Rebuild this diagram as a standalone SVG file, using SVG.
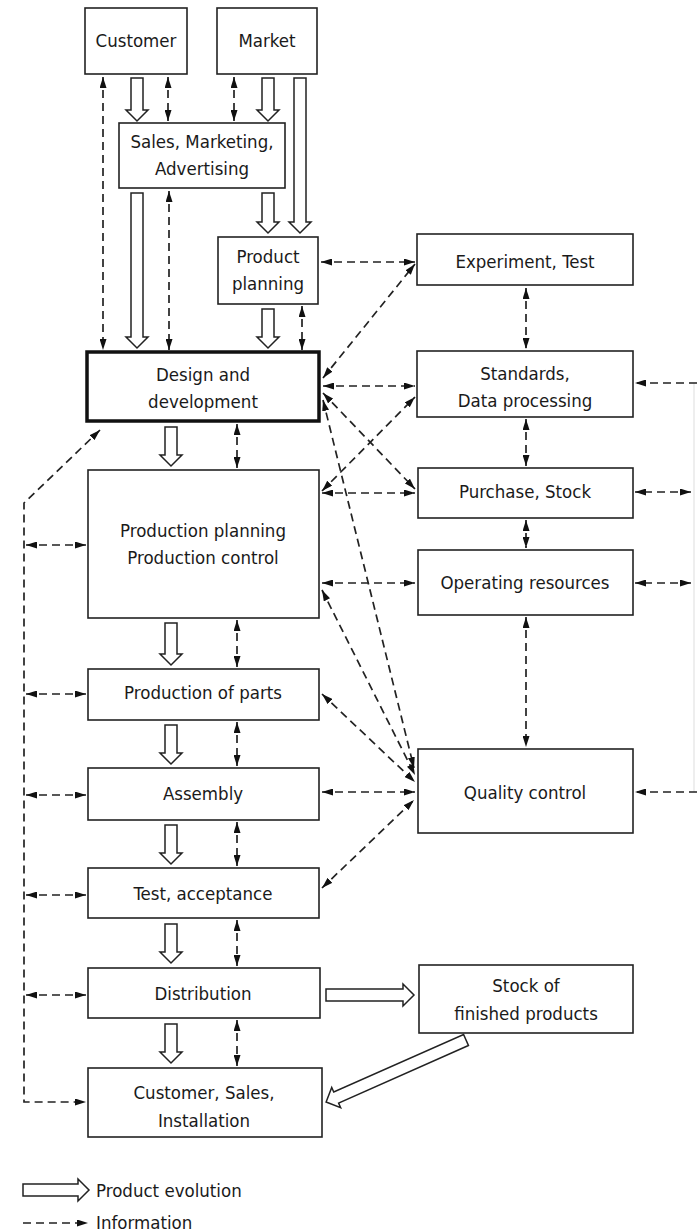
<svg xmlns="http://www.w3.org/2000/svg" width="697" height="1232" viewBox="0 0 697 1232">
<style>
.box{fill:#fff;stroke:#222;stroke-width:1.6}
.thick{fill:#fff;stroke:#111;stroke-width:3.5}
.t{font-family:"Liberation Sans Narrow","DejaVu Sans Condensed","Liberation Sans",sans-serif;font-size:18.5px;fill:#1a1a1a;text-anchor:middle}
.tl{font-family:"Liberation Sans Narrow","DejaVu Sans Condensed","Liberation Sans",sans-serif;font-size:18.5px;fill:#1a1a1a}
.d{fill:none;stroke:#222;stroke-width:1.7;stroke-dasharray:8 5}
.db{fill:none;stroke:#222;stroke-width:1.7;stroke-dasharray:8 5;marker-start:url(#ah);marker-end:url(#ah)}
.de{fill:none;stroke:#222;stroke-width:1.7;stroke-dasharray:8 5;marker-end:url(#ah)}
.hol{fill:#fff;stroke:#222;stroke-width:1.5;stroke-linejoin:miter}
</style>
<defs>
<marker id="ah" viewBox="0 0 11 7" refX="11" refY="3.5" markerWidth="11" markerHeight="7" markerUnits="userSpaceOnUse" orient="auto-start-reverse">
<path d="M0,0 L11,3.5 L0,7 z" fill="#111"/>
</marker>
</defs>

<g id="connectors">
<!-- hollow product evolution arrows -->
<path class="hol" d="M131,78 L143,78 L143,110 L148,110 L137,121 L126,110 L131,110 Z"/>
<path class="hol" d="M262,78 L274,78 L274,110 L279,110 L268,121 L257,110 L262,110 Z"/>
<path class="hol" d="M294,78 L306,78 L306,222 L311,222 L300,233 L289,222 L294,222 Z"/>
<path class="hol" d="M262,193 L274,193 L274,222 L279,222 L268,233 L257,222 L262,222 Z"/>
<path class="hol" d="M131,193 L143,193 L143,337 L148,337 L137,348 L126,337 L131,337 Z"/>
<path class="hol" d="M262,309 L274,309 L274,337 L279,337 L268,348 L257,337 L262,337 Z"/>
<path class="hol" d="M165,427 L177,427 L177,455 L182,455 L171,466 L160,455 L165,455 Z"/>
<path class="hol" d="M165,623 L177,623 L177,654 L182,654 L171,665 L160,654 L165,654 Z"/>
<path class="hol" d="M165,725 L177,725 L177,753 L182,753 L171,764 L160,753 L165,753 Z"/>
<path class="hol" d="M165,825 L177,825 L177,853 L182,853 L171,864 L160,853 L165,853 Z"/>
<path class="hol" d="M165,924 L177,924 L177,952 L182,952 L171,963 L160,952 L165,952 Z"/>
<path class="hol" d="M165,1024 L177,1024 L177,1052 L182,1052 L171,1063 L160,1052 L165,1052 Z"/>
<path class="hol" d="M326,989 L403,989 L403,984 L414,995 L403,1006 L403,1001 L326,1001 Z"/>
<path class="hol" transform="translate(466,1040) rotate(156.1)" d="M0,-6 L142,-6 L142,-11 L153,0 L142,11 L142,6 L0,6 Z"/>

<!-- vertical information arrows, main column -->
<path class="db" d="M103,77 L103,350"/>
<path class="db" d="M168,77 L168,121"/>
<path class="db" d="M234,77 L234,121"/>
<path class="db" d="M169,191 L169,350"/>
<path class="db" d="M302,306 L302,350"/>
<path class="db" d="M237,424 L237,468"/>
<path class="db" d="M237,620 L237,667"/>
<path class="db" d="M237,722 L237,766"/>
<path class="db" d="M237,822 L237,866"/>
<path class="db" d="M237,920 L237,966"/>
<path class="db" d="M237,1020 L237,1066"/>

<!-- left bus -->
<path class="d" d="M100,430 L24,503 L24,1102 L86,1102" marker-start="url(#ah)" marker-end="url(#ah)"/>
<path class="db" d="M26,545 L86,545"/>
<path class="db" d="M26,694 L86,694"/>
<path class="db" d="M26,795 L86,795"/>
<path class="db" d="M26,895 L86,895"/>
<path class="db" d="M26,995 L86,995"/>

<!-- middle connections -->
<path class="db" d="M321,262 L415,262"/>
<path class="db" d="M323,378 L415,264"/>
<path class="db" d="M323,386 L415,386"/>
<path class="db" d="M323,393 L415,489"/>
<path class="db" d="M323,400 L414,768"/>
<path class="db" d="M322,491 L415,397"/>
<path class="db" d="M322,493 L415,493"/>
<path class="db" d="M322,583 L415,583"/>
<path class="db" d="M322,590 L415,775"/>
<path class="db" d="M322,694 L415,782"/>
<path class="db" d="M322,792 L415,792"/>
<path class="db" d="M322,888 L414,800"/>

<!-- right column vertical -->
<path class="db" d="M526,288 L526,349"/>
<path class="db" d="M526,419 L526,466"/>
<path class="db" d="M526,520 L526,548"/>
<path class="db" d="M526,617 L526,747"/>

<!-- right bus -->
<path d="M694,383 L694,792" fill="none" stroke="#ddd" stroke-width="1"/>
<path class="de" d="M697,383 L635,383"/>
<path class="db" d="M691,492 L635,492"/>
<path class="db" d="M691,583 L635,583"/>
<path class="de" d="M697,792 L635,792"/>
</g>

<g id="customer"><rect class="box" x="85" y="8" width="102" height="66"/><text class="t" x="136" y="47">Customer</text></g>
<g id="market"><rect class="box" x="217" y="8" width="100" height="66"/><text class="t" x="267" y="47">Market</text></g>
<g id="sales"><rect class="box" x="119" y="123" width="166" height="65"/><text class="t" x="202" y="148">Sales, Marketing,</text><text class="t" x="202" y="175">Advertising</text></g>
<g id="product-planning"><rect class="box" x="218" y="237" width="100" height="67"/><text class="t" x="268" y="263">Product</text><text class="t" x="268" y="290">planning</text></g>
<g id="design"><rect class="thick" x="87" y="352" width="232" height="69"/><text class="t" x="203" y="381">Design and</text><text class="t" x="203" y="408">development</text></g>
<g id="production-planning"><rect class="box" x="88" y="470" width="231" height="148"/><text class="t" x="203" y="537">Production planning</text><text class="t" x="203" y="564">Production control</text></g>
<g id="parts"><rect class="box" x="88" y="669" width="231" height="51"/><text class="t" x="203" y="699">Production of parts</text></g>
<g id="assembly"><rect class="box" x="88" y="768" width="231" height="52"/><text class="t" x="203" y="800">Assembly</text></g>
<g id="test-acceptance"><rect class="box" x="88" y="868" width="231" height="50"/><text class="t" x="203" y="900">Test, acceptance</text></g>
<g id="distribution"><rect class="box" x="88" y="968" width="232" height="50"/><text class="t" x="203" y="1000">Distribution</text></g>
<g id="customer-sales"><rect class="box" x="88" y="1068" width="234" height="69"/><text class="t" x="204" y="1099">Customer, Sales,</text><text class="t" x="204" y="1127">Installation</text></g>
<g id="experiment"><rect class="box" x="417" y="234" width="216" height="51"/><text class="t" x="525" y="268">Experiment, Test</text></g>
<g id="standards"><rect class="box" x="417" y="351" width="216" height="66"/><text class="t" x="525" y="380">Standards,</text><text class="t" x="525" y="407">Data processing</text></g>
<g id="purchase"><rect class="box" x="418" y="468" width="215" height="50"/><text class="t" x="525" y="498">Purchase, Stock</text></g>
<g id="operating"><rect class="box" x="418" y="550" width="215" height="65"/><text class="t" x="525" y="589">Operating resources</text></g>
<g id="quality"><rect class="box" x="418" y="749" width="215" height="84"/><text class="t" x="525" y="799">Quality control</text></g>
<g id="stock-finished"><rect class="box" x="419" y="965" width="214" height="68"/><text class="t" x="526" y="992">Stock of</text><text class="t" x="526" y="1020">finished products</text></g>

<g id="legend">
<path class="hol" d="M23,1184 L78,1184 L78,1179 L89,1190 L78,1201 L78,1196 L23,1196 Z"/>
<text class="tl" x="96" y="1197">Product evolution</text>
<path class="de" d="M23,1223 L88,1223"/>
<text class="tl" x="96" y="1229">Information</text>
</g>
</svg>
